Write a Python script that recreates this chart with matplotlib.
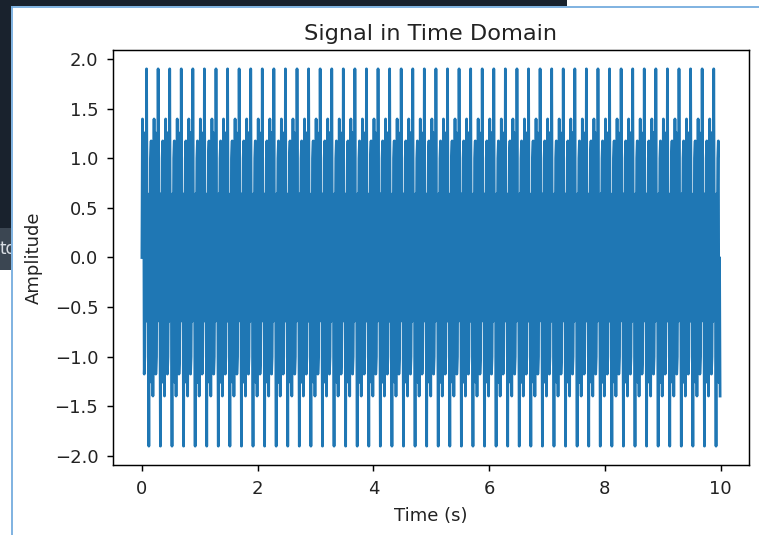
import numpy as np
import matplotlib
matplotlib.use('Agg')
import matplotlib.pyplot as plt
from matplotlib.patches import Rectangle
from matplotlib.lines import Line2D

# ---- data: a two-tone test signal, sampled at 100 Hz for 10 s ----
sample_rate_hz = 100
duration_s = 10
tone_freqs_hz = [15, 40]
tone_amplitudes = [1.0, 1.0]

title_text = "Signal in Time Domain"
x_label = "Time (s)"
y_label = "Amplitude"
x_ticks = [0, 2, 4, 6, 8, 10]
y_ticks = [-2.0, -1.5, -1.0, -0.5, 0.0, 0.5, 1.0, 1.5, 2.0]

t = np.arange(0, duration_s, 1 / sample_rate_hz)
signal = np.zeros_like(t)
for f, a in zip(tone_freqs_hz, tone_amplitudes):
    signal += a * np.sin(2 * np.pi * f * t)

W, H = 759, 535
fig = plt.figure(figsize=(W / 100, H / 100), dpi=100, facecolor='white')

def fx(px):
    return px / W

def fy(py):
    return 1 - py / H

# screenshot surroundings (dark notebook UI + blue cell border)
dark = '#19222d'
fig.patches.append(Rectangle((0, fy(6)), fx(567), 6 / H, transform=fig.transFigure,
                             facecolor=dark, edgecolor='none', zorder=0))
fig.patches.append(Rectangle((0, fy(228)), fx(11), 228 / H, transform=fig.transFigure,
                             facecolor=dark, edgecolor='none', zorder=0))
box = Rectangle((0, fy(270)), fx(11), 42 / H, transform=fig.transFigure,
                facecolor='#3b4652', edgecolor='none', zorder=0)
fig.patches.append(box)
txt = fig.text(fx(-1), fy(249), "to", color='#d8dde3', fontsize=12, va='center', ha='left')
txt.set_clip_path(box)
border = '#6aa6dc'
fig.lines.append(Line2D([fx(11.5), fx(11.5)], [fy(7), 0], transform=fig.transFigure,
                        color=border, lw=1.2))
fig.lines.append(Line2D([fx(11.5), 1], [fy(7), fy(7)], transform=fig.transFigure,
                        color=border, lw=1.2))

ax = fig.add_axes([fx(113), fy(465), fx(749) - fx(113), fy(50) - fy(465)])
ax.plot(t, signal, color='#1f77b4', lw=2.0)
ax.set_title(title_text, fontsize=16.2, pad=7.5, color='#222222')
ax.set_xlabel(x_label, fontsize=13, labelpad=6.5, color='#222222')
ax.set_ylabel(y_label, fontsize=13, labelpad=8.5, color='#222222')
ax.tick_params(labelsize=13, length=4.4, width=1.05, pad=6.2, labelcolor='#222222')
for s in ax.spines.values():
    s.set_linewidth(1.05)
ax.set_xticks(x_ticks)
ax.set_yticks(y_ticks)

fig.savefig('out.png', dpi=100, facecolor='white')
